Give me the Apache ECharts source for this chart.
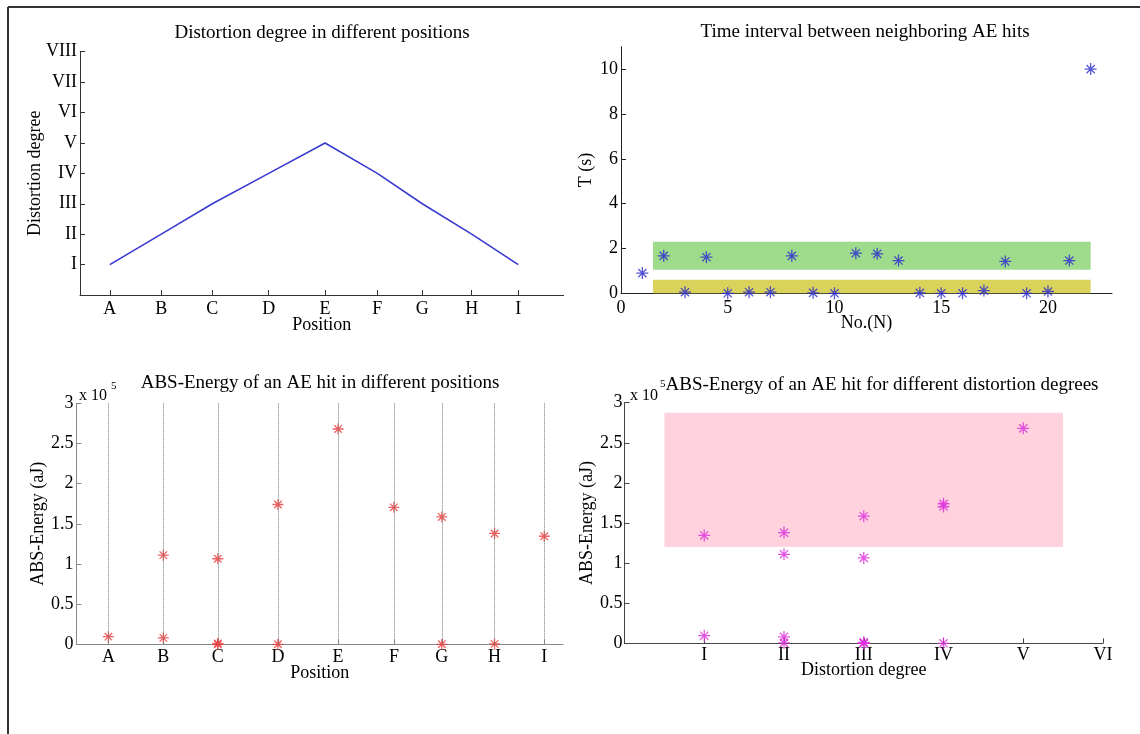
<!DOCTYPE html>
<html>
<head>
<meta charset="utf-8">
<title>AE hits</title>
<script src="https://cdn.jsdelivr.net/npm/echarts@6.0.0/dist/echarts.min.js"></script>
<style>
  html, body { margin: 0; padding: 0; background: #fff; }
  #main { width: 1140px; height: 734px; }
</style>
</head>
<body>
<div id="main"></div>
<script>
  // positions along the specimen (relative distance, A..I)
  var positionNames = ['A', 'B', 'C', 'D', 'E', 'F', 'G', 'H', 'I'];
  var positionValues = [0, 12.6, 25.1, 38.9, 52.7, 65.5, 76.5, 88.6, 100];
  var romanLabels = ['I', 'II', 'III', 'IV', 'V', 'VI', 'VII', 'VIII'];
  var distortionDegrees = [1, 2, 3, 4, 5, 4, 3, 2, 1];

  // time interval between neighbouring AE hits
  var hitNo = [1, 2, 3, 4, 5, 6, 7, 8, 9, 10, 11, 12, 13, 14, 15, 16, 17, 18, 19, 20, 21, 22];
  var hitInterval = [0.9, 1.67, 0.05, 1.61, 0.0, 0.05, 0.05, 1.67, 0.02, 0.0, 1.79,
                     1.76, 1.46, 0.02, 0.0, 0.0, 0.12, 1.42, 0.0, 0.08, 1.46, 10.0];
  var greenBandX = [1.5, 22];
  var greenBandY = [1.05, 2.3];
  var yellowBandX = [1.5, 22];
  var yellowBandY = [0, 0.6];

  // ABS-Energy (aJ) of the hits at each position
  var energyByPosition = [
    [9500],
    [111000, 8000],
    [106500, 1200, 0],
    [174000, 0],
    [268000],
    [170500],
    [158500, 0],
    [138000, 500],
    [134500]
  ];
  var pinkBandX = [0.5, 5.5];
  var pinkBandY = [120000, 287500];

  var FONT = "'Liberation Serif', 'DejaVu Serif', serif";
  var STAR = 'path://M5,0L5,10M0,5L10,5M1.6,1.6L8.4,8.4M1.6,8.4L8.4,1.6';

  function lbl(extra) {
    var o = { color: '#000', fontFamily: FONT, fontSize: 18 };
    for (var k in extra) o[k] = extra[k];
    return o;
  }
  function nameStyle() {
    return { color: '#000', fontFamily: FONT, fontSize: 18 };
  }
  function axLine(c) {
    return { onZero: false, lineStyle: { color: c, width: 1 } };
  }

  var linePoints = positionValues.map(function (p, i) { return [p, distortionDegrees[i]]; });
  var intervalPoints = hitNo.map(function (n, i) { return [n, hitInterval[i]]; });
  var energyPoints = [];
  var degreePoints = [];
  energyByPosition.forEach(function (vals, i) {
    vals.forEach(function (v) {
      energyPoints.push([positionValues[i], v]);
      degreePoints.push([distortionDegrees[i], v]);
    });
  });

  var chart = echarts.init(document.getElementById('main'));
  var option = {
    animation: false,
    backgroundColor: '#fff',
    grid: [
      { left: 80, top: 51.7, width: 483.6, height: 243.3, outerBoundsMode: 'none' },
      { left: 621, top: 46.7, width: 491, height: 246.6, outerBoundsMode: 'none' },
      { left: 76.5, top: 403.3, width: 486.5, height: 241, outerBoundsMode: 'none' },
      { left: 624.5, top: 402.7, width: 478.5, height: 240.6, outerBoundsMode: 'none' }
    ],
    xAxis: [
      {
        gridIndex: 0, type: 'value', min: -7.3, max: 111.1,
        name: 'Position', nameLocation: 'middle', nameGap: 21, nameMoveOverlap: false,
        nameTextStyle: nameStyle(),
        axisLine: axLine('#333'),
        axisTick: { inside: true, length: 5, customValues: positionValues, lineStyle: { color: '#333' } },
        axisLabel: lbl({ margin: 5, customValues: positionValues,
          formatter: function (v) { var i = positionValues.indexOf(v); return i < 0 ? '' : positionNames[i]; } }),
        splitLine: { show: false }
      },
      {
        gridIndex: 1, type: 'value', min: 0, max: 23,
        name: 'No.(N)', nameLocation: 'middle', nameGap: 21, nameMoveOverlap: false,
        nameTextStyle: nameStyle(),
        axisLine: axLine('#222'),
        axisTick: { inside: true, length: 5, customValues: [0, 5, 10, 15, 20], lineStyle: { color: '#222' } },
        axisLabel: lbl({ margin: 6, customValues: [0, 5, 10, 15, 20] }),
        splitLine: { show: false }
      },
      {
        gridIndex: 2, type: 'value', min: -7.32, max: 104.3,
        name: 'Position', nameLocation: 'middle', nameGap: 20, nameMoveOverlap: false,
        nameTextStyle: nameStyle(),
        axisLine: axLine('#888'),
        axisTick: { inside: true, length: 5, customValues: positionValues, lineStyle: { color: '#888' } },
        axisLabel: lbl({ margin: 4, customValues: positionValues,
          formatter: function (v) { var i = positionValues.indexOf(v); return i < 0 ? '' : positionNames[i]; } }),
        splitLine: { show: false }
      },
      {
        gridIndex: 3, type: 'value', min: 0, max: 6,
        name: 'Distortion degree', nameLocation: 'middle', nameGap: 18, nameMoveOverlap: false,
        nameTextStyle: nameStyle(),
        axisLine: axLine('#444'),
        axisTick: { inside: true, length: 5, customValues: [1, 2, 3, 4, 5, 6], lineStyle: { color: '#444' } },
        axisLabel: lbl({ margin: 3, customValues: [1, 2, 3, 4, 5, 6],
          formatter: function (v) { return romanLabels[v - 1] || ''; } }),
        splitLine: { show: false }
      }
    ],
    yAxis: [
      {
        gridIndex: 0, type: 'value', min: 0, max: 8,
        name: 'Distortion degree', nameLocation: 'middle', nameGap: 36, nameMoveOverlap: false,
        nameTextStyle: nameStyle(),
        axisLine: axLine('#333'),
        axisTick: { inside: true, length: 5, customValues: [1, 2, 3, 4, 5, 6, 7, 8], lineStyle: { color: '#333' } },
        axisLabel: lbl({ margin: 3, customValues: [1, 2, 3, 4, 5, 6, 7, 8],
          formatter: function (v) { return romanLabels[v - 1] || ''; } }),
        splitLine: { show: false }
      },
      {
        gridIndex: 1, type: 'value', min: 0, max: 11,
        name: 'T (s)', nameLocation: 'middle', nameGap: 26, nameMoveOverlap: false,
        nameTextStyle: nameStyle(),
        axisLine: axLine('#222'),
        axisTick: { inside: true, length: 5, customValues: [0, 2, 4, 6, 8, 10], lineStyle: { color: '#222' } },
        axisLabel: lbl({ margin: 3, customValues: [0, 2, 4, 6, 8, 10] }),
        splitLine: { show: false }
      },
      {
        gridIndex: 2, type: 'value', min: 0, max: 300000, interval: 50000,
        name: 'ABS-Energy (aJ)', nameLocation: 'middle', nameGap: 29, nameMoveOverlap: false,
        nameTextStyle: nameStyle(),
        axisLine: axLine('#888'),
        axisTick: { inside: true, length: 5, lineStyle: { color: '#888' } },
        axisLabel: lbl({ margin: 3, formatter: function (v) { return String(v / 100000); } }),
        splitLine: { show: false }
      },
      {
        gridIndex: 3, type: 'value', min: 0, max: 300000, interval: 50000,
        name: 'ABS-Energy (aJ)', nameLocation: 'middle', nameGap: 28, nameMoveOverlap: false,
        nameTextStyle: nameStyle(),
        axisLine: axLine('#444'),
        axisTick: { inside: true, length: 5, lineStyle: { color: '#444' } },
        axisLabel: lbl({ margin: 2, formatter: function (v) { return String(v / 100000); } }),
        splitLine: { show: false }
      }
    ],
    series: [
      {
        name: 'Distortion degree', type: 'line', xAxisIndex: 0, yAxisIndex: 0,
        data: linePoints, symbol: 'none',
        lineStyle: { color: '#3a3ad2', width: 1.6 }
      },
      {
        name: 'bands', type: 'scatter', xAxisIndex: 1, yAxisIndex: 1, data: [], z: 1,
        markArea: {
          silent: true,
          data: [
            [{ xAxis: greenBandX[0], yAxis: greenBandY[0], itemStyle: { color: '#9edc8c' } },
             { xAxis: greenBandX[1], yAxis: greenBandY[1] }],
            [{ xAxis: yellowBandX[0], yAxis: yellowBandY[0], itemStyle: { color: '#d9d35c' } },
             { xAxis: yellowBandX[1], yAxis: yellowBandY[1] }]
          ]
        }
      },
      {
        name: 'T', type: 'scatter', xAxisIndex: 1, yAxisIndex: 1, z: 3,
        data: intervalPoints, symbol: STAR, symbolSize: 12,
        itemStyle: { color: 'transparent', borderColor: '#2a2ad0', borderWidth: 1.3 }
      },
      {
        name: 'Energy', type: 'scatter', xAxisIndex: 2, yAxisIndex: 2, z: 3,
        data: energyPoints, symbol: STAR, symbolSize: 11,
        itemStyle: { color: 'transparent', borderColor: '#f03a3a', borderWidth: 1.3 },
        markLine: {
          silent: true, symbol: ['none', 'none'], label: { show: false },
          lineStyle: { type: 'dotted', color: '#777', width: 1 },
          data: positionValues.map(function (p) { return { xAxis: p }; })
        }
      },
      {
        name: 'pink', type: 'scatter', xAxisIndex: 3, yAxisIndex: 3, data: [], z: 1,
        markArea: {
          silent: true,
          data: [
            [{ xAxis: pinkBandX[0], yAxis: pinkBandY[0], itemStyle: { color: '#ffd2dd' } },
             { xAxis: pinkBandX[1], yAxis: pinkBandY[1] }]
          ]
        }
      },
      {
        name: 'Energy by degree', type: 'scatter', xAxisIndex: 3, yAxisIndex: 3, z: 3,
        data: degreePoints, symbol: STAR, symbolSize: 12,
        itemStyle: { color: 'transparent', borderColor: '#dd30dd', borderWidth: 1.3 }
      }
    ],
    graphic: [
      { type: 'line', shape: { x1: 8, y1: 7, x2: 8, y2: 734 }, style: { stroke: '#333', lineWidth: 2 } },
      { type: 'line', shape: { x1: 8, y1: 7, x2: 1140, y2: 7 }, style: { stroke: '#333', lineWidth: 2 } },
      { type: 'text', x: 322, y: 33, style: { text: 'Distortion degree in different positions',
        font: '19px ' + FONT, fill: '#000', align: 'center', verticalAlign: 'middle' } },
      { type: 'text', x: 865, y: 32, style: { text: 'Time interval between neighboring AE hits',
        font: '19px ' + FONT, fill: '#000', align: 'center', verticalAlign: 'middle' } },
      { type: 'text', x: 320, y: 383, style: { text: 'ABS-Energy of an AE hit in different positions',
        font: '19px ' + FONT, fill: '#000', align: 'center', verticalAlign: 'middle' } },
      { type: 'text', x: 882, y: 385, style: { text: 'ABS-Energy of an AE hit for different distortion degrees',
        font: '19px ' + FONT, fill: '#000', align: 'center', verticalAlign: 'middle' } },
      { type: 'text', x: 79, y: 396, style: { text: 'x 10', font: '16px ' + FONT, fill: '#000', verticalAlign: 'middle' } },
      { type: 'text', x: 111, y: 386, style: { text: '5', font: '11px ' + FONT, fill: '#000', verticalAlign: 'middle' } },
      { type: 'text', x: 630, y: 396, style: { text: 'x 10', font: '16px ' + FONT, fill: '#000', verticalAlign: 'middle' } },
      { type: 'text', x: 660, y: 384, style: { text: '5', font: '11px ' + FONT, fill: '#000', verticalAlign: 'middle' } }
    ]
  };
  chart.setOption(option);
</script>
</body>
</html>
